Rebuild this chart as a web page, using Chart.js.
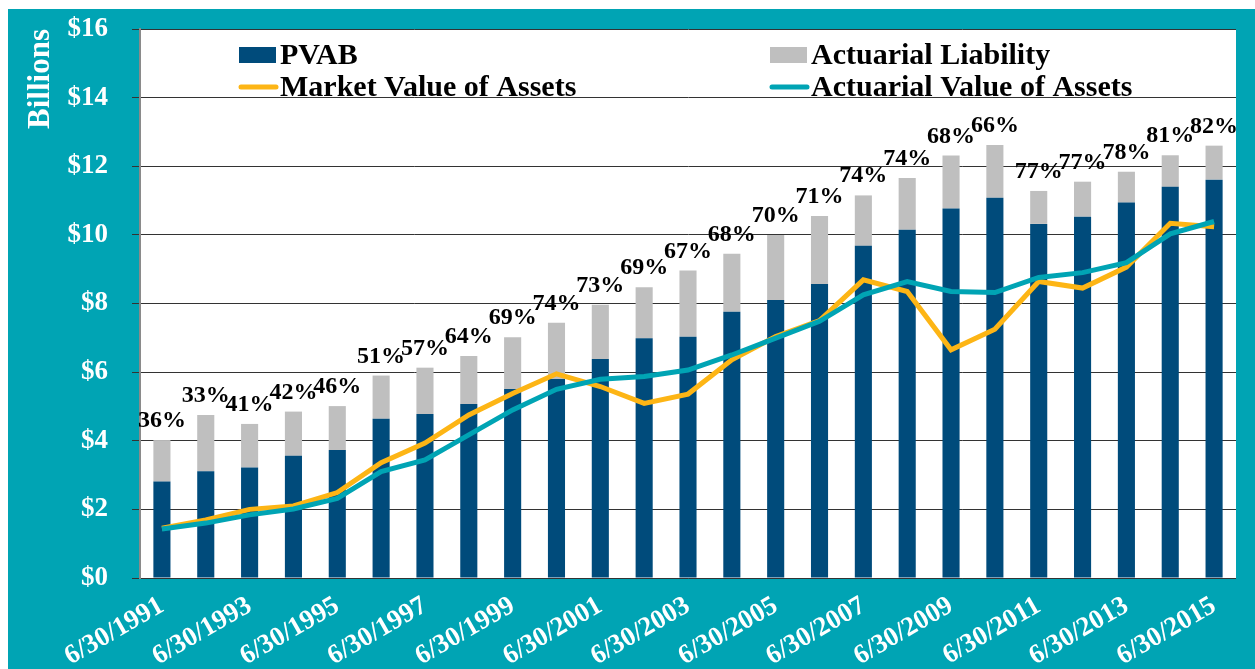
<!DOCTYPE html>
<html>
<head>
<meta charset="utf-8">
<script src="https://cdn.jsdelivr.net/npm/chart.js@4.4.1/dist/chart.umd.min.js"></script>
<style>
  html, body { margin: 0; padding: 0; background: #ffffff; }
  #wrap { position: absolute; left: 8px; top: 9px; width: 1247px; height: 660px; background: #00A4B4; }
  canvas { display: block; }
</style>
</head>
<body>
<div id="wrap"><canvas id="c" width="1247" height="660"></canvas></div>
<script>
const categories = ['6/30/1991','6/30/1992','6/30/1993','6/30/1994','6/30/1995','6/30/1996','6/30/1997','6/30/1998','6/30/1999','6/30/2000','6/30/2001','6/30/2002','6/30/2003','6/30/2004','6/30/2005','6/30/2006','6/30/2007','6/30/2008','6/30/2009','6/30/2010','6/30/2011','6/30/2012','6/30/2013','6/30/2014','6/30/2015'];
const pvab = [2.81,3.11,3.22,3.56,3.73,4.64,4.78,5.07,5.51,5.80,6.38,6.99,7.03,7.76,8.10,8.57,9.68,10.15,10.77,11.08,10.32,10.53,10.94,11.40,11.61];
const actuarialLiability = [4.02,4.75,4.49,4.85,5.01,5.90,6.13,6.47,7.02,7.44,7.96,8.47,8.96,9.45,10.00,10.55,11.15,11.66,12.31,12.62,11.28,11.55,11.84,12.32,12.60];
const marketValue = [1.45,1.69,2.00,2.10,2.49,3.36,3.93,4.75,5.38,5.95,5.58,5.09,5.36,6.36,7.04,7.50,8.69,8.35,6.65,7.25,8.64,8.45,9.06,10.34,10.24];
const actuarialValue = [1.43,1.60,1.84,2.01,2.32,3.10,3.44,4.17,4.90,5.50,5.79,5.87,6.06,6.50,6.99,7.48,8.25,8.64,8.35,8.32,8.76,8.90,9.19,10.03,10.39];
const fundedPct = ['36%','33%','41%','42%','46%','51%','57%','64%','69%','74%','73%','69%','67%','68%','70%','71%','74%','74%','68%','66%','77%','77%','78%','81%','82%'];
const legendLabels = ['PVAB','Actuarial Liability','Market Value of Assets','Actuarial Value of Assets'];

const COL_PVAB = '#004B7B';
const COL_AL = '#BFBFBF';
const COL_MVA = '#FDB515';
const COL_AVA = '#00A4B4';
const SERIF = '"Liberation Serif", "Times New Roman", serif';

// Actuarial liability segment stacked on top of PVAB
const alSegment = actuarialLiability.map((v, i) => +(v - pvab[i]).toFixed(2));

const pctPlugin = {
  id: 'pctLabels',
  afterDatasetsDraw(chart) {
    const ctx = chart.ctx;
    const meta = chart.getDatasetMeta(1);
    const ys = chart.scales.y;
    ctx.save();
    ctx.font = 'bold 24px ' + SERIF;
    ctx.fillStyle = '#000';
    ctx.textAlign = 'center';
    ctx.textBaseline = 'alphabetic';
    meta.data.forEach((bar, i) => {
      const top = ys.getPixelForValue(actuarialLiability[i]);
      ctx.fillText(fundedPct[i], bar.x, top - 13);
    });
    ctx.restore();
  }
};

const legendPlugin = {
  id: 'gridLegend',
  afterDraw(chart) {
    const ctx = chart.ctx;
    ctx.save();
    ctx.font = 'bold 30px ' + SERIF;
    ctx.fillStyle = '#000';
    ctx.textAlign = 'left';
    ctx.textBaseline = 'alphabetic';
    const cols = [231, 762];
    const rows = [55, 87];
    const items = [
      {t: legendLabels[0], kind: 'box', c: COL_PVAB, col: 0, row: 0},
      {t: legendLabels[1], kind: 'box', c: COL_AL, col: 1, row: 0},
      {t: legendLabels[2], kind: 'line', c: COL_MVA, col: 0, row: 1},
      {t: legendLabels[3], kind: 'line', c: COL_AVA, col: 1, row: 1}
    ];
    items.forEach(it => {
      const x = cols[it.col];
      const yc = rows[it.row] - 9;
      if (it.kind === 'box') {
        ctx.fillStyle = it.c;
        ctx.fillRect(x, yc - 8, 37, 16);
      } else {
        ctx.strokeStyle = it.c;
        ctx.lineWidth = 5;
        ctx.lineCap = 'round';
        ctx.beginPath();
        ctx.moveTo(x + 2, yc);
        ctx.lineTo(x + 37, yc);
        ctx.stroke();
      }
      ctx.fillStyle = '#000';
      ctx.fillText(it.t, x + 41, rows[it.row]);
    });
    ctx.restore();
  }
};

const whitePlot = {
  id: 'whitePlot',
  beforeDraw(chart) {
    const a = chart.chartArea;
    const ctx = chart.ctx;
    ctx.save();
    ctx.fillStyle = '#ffffff';
    ctx.fillRect(a.left, a.top, a.right - a.left, a.bottom - a.top);
    ctx.restore();
  }
};

new Chart(document.getElementById('c'), {
  type: 'bar',
  data: {
    labels: categories,
    datasets: [
      { type: 'bar', label: legendLabels[0], data: pvab, backgroundColor: COL_PVAB, stack: 's', order: 3, barPercentage: 0.39, categoryPercentage: 1.0 },
      { type: 'bar', label: legendLabels[1], data: alSegment, backgroundColor: COL_AL, stack: 's', order: 3, barPercentage: 0.39, categoryPercentage: 1.0 },
      { type: 'line', label: legendLabels[2], data: marketValue, stack: 'mva', borderColor: COL_MVA, backgroundColor: COL_MVA, borderWidth: 5, pointRadius: 0, tension: 0, order: 2, fill: false },
      { type: 'line', label: legendLabels[3], data: actuarialValue, stack: 'ava', borderColor: COL_AVA, backgroundColor: COL_AVA, borderWidth: 5, pointRadius: 0, tension: 0, order: 1, fill: false }
    ]
  },
  options: {
    responsive: false,
    animation: false,
    layout: { padding: { left: 0, right: 19, top: 0, bottom: 0 } },
    plugins: { legend: { display: false }, tooltip: { enabled: false } },
    scales: {
      x: {
        stacked: true,
        grid: { display: false },
        border: { display: false },
        afterFit(s) { s.height = 91; },
        ticks: {
          autoSkip: false,
          minRotation: 30,
          maxRotation: 30,
          padding: 4,
          color: '#ffffff',
          font: { family: SERIF, size: 27, weight: 'bold' },
          callback(v, i) { return i % 2 === 0 ? categories[i] : ''; }
        }
      },
      y: {
        stacked: true,
        min: 0,
        max: 16,
        afterFit(s) { s.width = 132; s.paddingTop = 20; s.paddingBottom = 0; },
        grid: { color: '#333333', lineWidth: 1, tickLength: 8, drawTicks: true },
        border: { display: true, color: '#8a8a8a', width: 2 },
        ticks: {
          stepSize: 2,
          padding: 24,
          color: '#ffffff',
          font: { family: SERIF, size: 27, weight: 'bold' },
          callback(v) { return '$' + v; }
        },
        title: {
          display: true,
          text: 'Billions',
          align: 'end',
          color: '#ffffff',
          padding: { top: 14, bottom: 0 },
          font: { family: SERIF, size: 31, weight: 'bold' }
        }
      }
    }
  },
  plugins: [whitePlot, pctPlugin, legendPlugin]
});
</script>
</body>
</html>
